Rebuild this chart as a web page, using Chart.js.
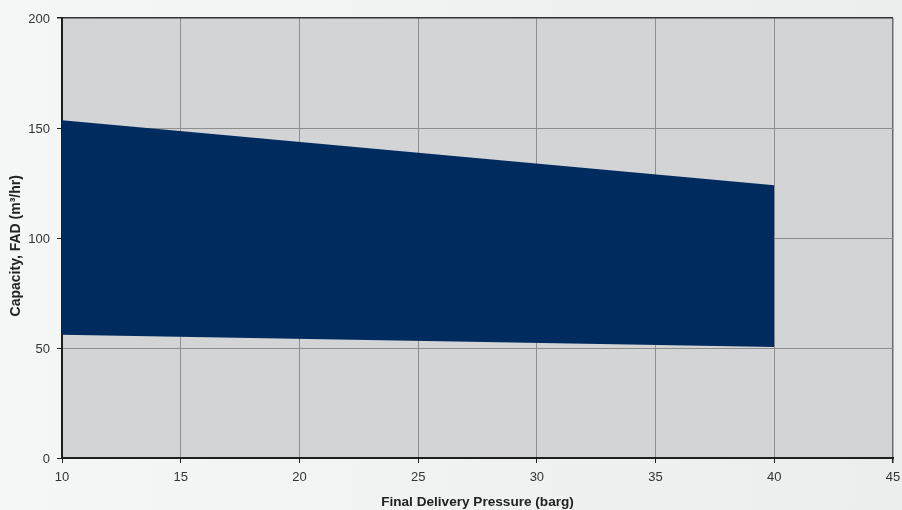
<!DOCTYPE html>
<html>
<head>
<meta charset="utf-8">
<script src="https://cdn.jsdelivr.net/npm/chart.js@4"></script>
<style>
  html, body { margin: 0; padding: 0; }
  body { width: 902px; height: 510px; background: linear-gradient(to right, #f5f6f6, #eceeed); overflow: hidden; }
  #wrap { width: 902px; height: 510px; position: relative; }
</style>
</head>
<body>
<div id="wrap"><canvas id="c" width="902" height="510"></canvas></div>
<script>
// Data
const pressure = [10, 40];              // Final Delivery Pressure (barg)
const capacityMax = [153.5, 124];       // upper envelope, m³/hr
const capacityMin = [56, 50.5];         // lower envelope, m³/hr
const xTicks = [10, 15, 20, 25, 30, 35, 40, 45];
const yTicks = [0, 50, 100, 150, 200];
const xTitle = 'Final Delivery Pressure (barg)';
const yTitle = 'Capacity, FAD (m³/hr)\u00a0\u00a0\u00a0\u00a0';

const plotBg = {
  id: 'plotBg',
  beforeDraw(chart) {
    const { ctx, chartArea: a } = chart;
    ctx.save();
    ctx.fillStyle = '#d3d4d6';
    ctx.fillRect(a.left, a.top, a.right - a.left, a.bottom - a.top);
    ctx.restore();
  }
};

const toPts = (xs, ys) => xs.map((x, i) => ({ x, y: ys[i] }));

new Chart(document.getElementById('c'), {
  type: 'line',
  data: {
    datasets: [
      {
        label: 'Max',
        data: toPts(pressure, capacityMax),
        borderWidth: 0,
        borderColor: 'rgba(0,0,0,0)',
        pointRadius: 0,
        backgroundColor: '#002b5f',
        fill: '+1',
        tension: 0
      },
      {
        label: 'Min',
        data: toPts(pressure, capacityMin),
        borderWidth: 0,
        borderColor: 'rgba(0,0,0,0)',
        pointRadius: 0,
        fill: false,
        tension: 0
      }
    ]
  },
  options: {
    responsive: false,
    animation: false,
    events: [],
    layout: { padding: { top: 18, right: 9, left: 0, bottom: 0 } },
    plugins: { legend: { display: false }, tooltip: { enabled: false } },
    scales: {
      x: {
        type: 'linear',
        min: 10, max: 45,
        afterBuildTicks(s) { s.ticks = xTicks.map(v => ({ value: v })); },
        afterFit(s) { s.height = 52; s.paddingRight = 0; s.paddingLeft = 0; },
        border: { display: true, color: '#1e1e1e', width: 2 },
        grid: {
          color: ctx => ctx.tick && ctx.tick.value === 45 ? '#6a6a6a' : '#8e8e8e',
          lineWidth: ctx => ctx.tick && ctx.tick.value === 45 ? 1.5 : 1,
          tickColor: '#1e1e1e',
          tickLength: 5,
          drawTicks: true
        },
        ticks: {
          color: '#333333',
          font: { family: 'Liberation Sans', size: 13 },
          padding: 7,
          maxRotation: 0,
          autoSkip: false
        },
        title: {
          display: true,
          text: xTitle,
          color: '#222222',
          font: { family: 'Liberation Sans', size: 13.6, weight: 'bold' },
          padding: { top: 4, bottom: 0 }
        }
      },
      y: {
        type: 'linear',
        min: 0, max: 200,
        afterBuildTicks(s) { s.ticks = yTicks.map(v => ({ value: v })); },
        afterFit(s) { s.width = 62; s.paddingTop = 0; s.paddingBottom = 0; },
        border: { display: true, color: '#1e1e1e', width: 2 },
        grid: {
          color: ctx => ctx.tick && ctx.tick.value === 200 ? '#333333' : '#8e8e8e',
          lineWidth: ctx => ctx.tick && ctx.tick.value === 200 ? 1.5 : 1,
          tickColor: '#1e1e1e',
          tickLength: 5,
          drawTicks: true
        },
        ticks: {
          color: '#333333',
          font: { family: 'Liberation Sans', size: 13 },
          padding: 7,
          labelOffset: 1.5
        },
        title: {
          display: true,
          text: yTitle,
          color: '#222222',
          font: { family: 'Liberation Sans', size: 14, weight: 'bold' },
          padding: { top: 8, bottom: 0 }
        }
      }
    }
  },
  plugins: [plotBg]
});
</script>
</body>
</html>
